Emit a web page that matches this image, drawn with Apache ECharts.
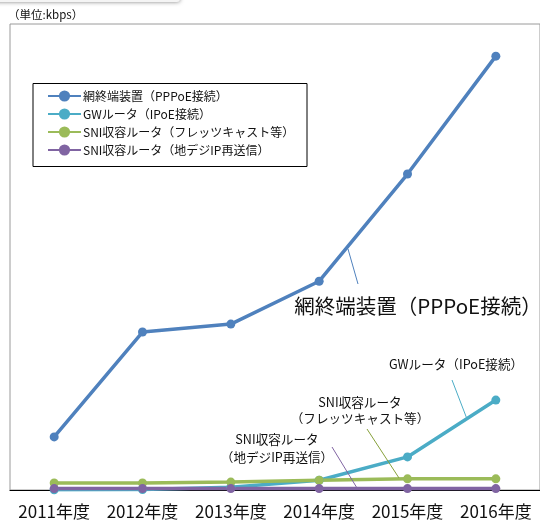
<!DOCTYPE html>
<html>
<head>
<meta charset="utf-8">
<script src="https://cdn.jsdelivr.net/npm/echarts@6/dist/echarts.min.js"></script>
<style>
  html, body { margin: 0; padding: 0; background: #fff; }
  #main { width: 540px; height: 525px; }
</style>
</head>
<body>
<div id="main"></div>
<script>
// 年度
const years = ["2011年度", "2012年度", "2013年度", "2014年度", "2015年度", "2016年度"];
// 相対値（縦軸 0〜100 に換算して読み取り）
const pppoe = [11.4, 33.9, 35.6, 44.8, 67.8, 93.1];
const gw = [0.05, 0.1, 0.6, 2.1, 7.1, 19.3];
const flets = [1.5, 1.5, 1.7, 2.1, 2.4, 2.4];
const chideji = [0.3, 0.3, 0.3, 0.3, 0.3, 0.3];
const names = [
  "網終端装置（PPPoE接続）",
  "GWルータ（IPoE接続）",
  "SNI収容ルータ（フレッツキャスト等）",
  "SNI収容ルータ（地デジIP再送信）"
];
const colors = ["#4F81BD", "#4BACC6", "#9BBB59", "#8064A2"];

const font = "'Noto Sans CJK JP', 'Noto Sans', sans-serif";

function mkSeries(name, data, color) {
  return {
    name: name,
    type: "line",
    data: data,
    symbol: "circle",
    symbolSize: 9,
    lineStyle: { width: 3.5, color: color },
    itemStyle: { color: color },
    emphasis: { disabled: true }
  };
}

function leader(x1, y1, x2, y2, color) {
  return {
    type: "line",
    shape: { x1: x1, y1: y1, x2: x2, y2: y2 },
    style: { stroke: color, lineWidth: 1 },
    z: 10
  };
}

function label(x, y, text, size) {
  return {
    type: "text",
    x: x,
    y: y,
    style: {
      text: text,
      font: size + "px " + font,
      fill: "#111",
      align: "center",
      verticalAlign: "middle"
    },
    z: 10
  };
}

let chart = echarts.init(document.getElementById("main"));
let option = {
  animation: false,
  textStyle: { fontFamily: font },
  grid: {
    left: 10,
    top: 24,
    width: 534,
    bottom: 35,
    show: true,
    borderColor: "#9a9a9a",
    borderWidth: 1
  },
  xAxis: {
    type: "category",
    data: years,
    boundaryGap: true,
    axisLine: { lineStyle: { color: "#000", width: 1.2 } },
    axisTick: { show: false },
    axisLabel: { color: "#111", fontSize: 17, margin: 13, interval: 0 }
  },
  yAxis: {
    type: "value",
    min: 0,
    max: 100,
    axisLine: { show: false },
    axisTick: { show: false },
    axisLabel: { show: false },
    splitLine: { show: false }
  },
  legend: {
    orient: "vertical",
    left: 47,
    top: 90,
    padding: 0,
    itemWidth: 33,
    itemHeight: 14,
    itemGap: 6,
    textStyle: { color: "#111", fontSize: 12, padding: [0, 0, 0, -3] },
    data: names
  },
  series: [
    mkSeries(names[0], pppoe, colors[0]),
    mkSeries(names[1], gw, colors[1]),
    mkSeries(names[2], flets, colors[2]),
    mkSeries(names[3], chideji, colors[3])
  ],
  graphic: [
    // 上部の影
    {
      type: "rect",
      shape: { x: -10, y: -12, width: 190, height: 14, r: 3 },
      style: { fill: "#f4f4f4", shadowBlur: 4, shadowColor: "rgba(0,0,0,0.5)" },
      z: 5
    },
    {
      type: "text",
      x: 8,
      y: 15,
      style: { text: "（単位:kbps）", font: "11.5px " + font, fill: "#111", verticalAlign: "middle" }
    },
    // 凡例の枠
    {
      type: "rect",
      shape: { x: 33, y: 83.5, width: 274, height: 83 },
      style: { fill: null, stroke: "#000", lineWidth: 1 },
      z: 1
    },
    label(418, 306, "網終端装置（PPPoE接続）", 20.5),
    leader(348, 249, 358, 284, colors[0]),
    label(456, 364, "GWルータ（IPoE接続）", 12.6),
    leader(452, 380, 467, 419, colors[1]),
    label(360, 402, "SNI収容ルータ", 12.6),
    label(360, 418, "（フレッツキャスト等）", 12.6),
    leader(367, 429, 399, 478, "#86A03A"),
    label(277, 439, "SNI収容ルータ", 12.6),
    label(277, 457, "（地デジIP再送信）", 12.6),
    leader(332, 447, 357, 488, colors[3])
  ]
};
chart.setOption(option);
</script>
</body>
</html>
